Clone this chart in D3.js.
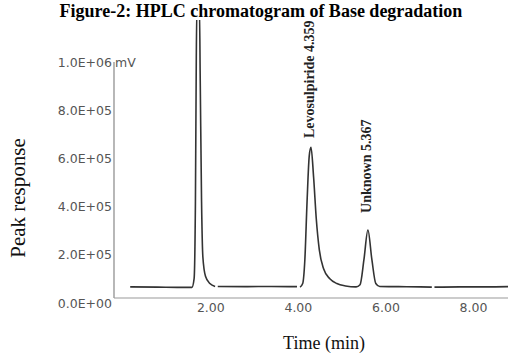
<!DOCTYPE html>
<html>
<head>
<meta charset="utf-8">
<script src="https://cdn.jsdelivr.net/npm/d3@7"></script>
<style>
  html, body { margin: 0; padding: 0; background: #fff; }
  svg { display: block; }
</style>
</head>
<body>
<svg id="chart" width="508" height="356"></svg>
<script>
// ---- data ----
const titleText = "Figure-2: HPLC chromatogram of Base degradation";
const xLabel = "Time (min)";
const yLabel = "Peak response";
const yUnit = "mV";

const xTicks = [2, 4, 6, 8];
const xTickLabels = ["2.00", "4.00", "6.00", "8.00"];
const yTicks = [0, 200000, 400000, 600000, 800000, 1000000];
const yTickLabels = ["0.0E+00", "2.0E+05", "4.0E+05", "6.0E+05", "8.0E+05", "1.0E+06"];

// chromatogram trace: retention time (min) and response; null = gap in trace
const traceTime = [
  0.17, 0.8, 1.3, 1.58, 1.63, 1.66, 1.68, 1.695, 1.75, 1.77, 1.80, 1.83, 1.89, 1.99, 2.11,
  2.14,
  2.17, 2.8, 3.4, 3.98,
  4.01,
  4.05, 4.11, 4.16, 4.21, 4.26, 4.30, 4.36, 4.42, 4.49, 4.59, 4.73, 4.89, 5.09, 5.33,
  5.42, 5.51, 5.60, 5.69, 5.78, 5.87, 6.3, 6.8, 7.06,
  7.09,
  7.12, 7.7, 8.3, 8.8
];
const traceResponse = [
  46000, 45000, 44000, 44000, 80000, 400000, 1000000, 1220000, 1220000, 900000, 400000, 170000, 90000, 60000, 48000,
  null,
  48000, 47000, 48000, 47000,
  null,
  45000, 60000, 160000, 400000, 590000, 625000, 500000, 330000, 200000, 120000, 80000, 60000, 50000, 46000,
  55000, 160000, 282000, 160000, 60000, 48000, 47000, 46000, 45000,
  null,
  45000, 46000, 46000, 47000
];

const peakNames = ["Levosulpiride 4.359", "Unknown 5.367"];
const peakTimes = [4.30, 5.60];
const peakLabelStart = [664000, 353000];

// ---- layout ----
const svg = d3.select("#chart");
const x = d3.scaleLinear().domain([-0.2, 8.8]).range([114, 508]);
const y = d3.scaleLinear().domain([0, 1000000]).range([298, 57]);

// title
svg.append("text")
  .attr("x", 261).attr("y", 17)
  .attr("text-anchor", "middle")
  .attr("font-family", "Liberation Serif, Times New Roman, serif")
  .attr("font-weight", "bold")
  .attr("font-size", 18)
  .attr("fill", "#000")
  .text(titleText);

// clip for trace
svg.append("clipPath").attr("id", "plotclip")
  .append("rect").attr("x", 114).attr("y", 20).attr("width", 394).attr("height", 300);

// axes lines
svg.append("line")
  .attr("x1", x(-0.2)).attr("x2", x(-0.2))
  .attr("y1", y(1000000) + 5).attr("y2", y(0))
  .attr("stroke", "#888").attr("stroke-width", 1.2);
svg.append("line")
  .attr("x1", x(-0.2)).attr("x2", 508)
  .attr("y1", y(0)).attr("y2", y(0))
  .attr("stroke", "#999").attr("stroke-width", 1.2);

// y tick labels via axis
const yAxis = d3.axisLeft(y).tickValues(yTicks)
  .tickFormat((d, i) => yTickLabels[i]).tickSize(0).tickPadding(2);
const gy = svg.append("g").attr("transform", `translate(${x(-0.2)},5)`).call(yAxis);
gy.select(".domain").remove();
gy.selectAll("text")
  .attr("font-family", "DejaVu Sans, sans-serif")
  .attr("font-size", 12.5)
  .attr("fill", "#555");

svg.append("text")
  .attr("x", x(-0.2) + 1).attr("y", y(1000000) + 5)
  .attr("dy", "0.36em")
  .attr("font-family", "DejaVu Sans, sans-serif")
  .attr("font-size", 12.5)
  .attr("fill", "#555")
  .text(yUnit);

// x tick labels via axis
const xAxis = d3.axisBottom(x).tickValues(xTicks)
  .tickFormat((d, i) => xTickLabels[i]).tickSize(0).tickPadding(5);
const gx = svg.append("g").attr("transform", `translate(0,${y(0)})`).call(xAxis);
gx.select(".domain").remove();
gx.selectAll("text")
  .attr("font-family", "DejaVu Sans, sans-serif")
  .attr("font-size", 12.5)
  .attr("fill", "#555");

// trace
const trace = traceTime.map((t, i) => ({ t, v: traceResponse[i] }));
const line = d3.line()
  .defined(d => d.v !== null)
  .x(d => x(d.t)).y(d => y(d.v))
  .curve(d3.curveMonotoneX);
svg.append("path")
  .datum(trace)
  .attr("clip-path", "url(#plotclip)")
  .attr("fill", "none")
  .attr("stroke", "#333")
  .attr("stroke-width", 1.6)
  .attr("stroke-linejoin", "round")
  .attr("d", line);

// peak labels
peakNames.forEach((name, i) => {
  const px = x(peakTimes[i]) + 3;
  const py = y(peakLabelStart[i]);
  svg.append("text")
    .attr("transform", `translate(${px},${py}) rotate(-90)`)
    .attr("font-family", "Liberation Serif, Times New Roman, serif")
    .attr("font-weight", "bold")
    .attr("font-size", 14)
    .attr("fill", "#222")
    .text(name);
});

// axis titles
svg.append("text")
  .attr("x", 324).attr("y", 349)
  .attr("text-anchor", "middle")
  .attr("font-family", "Liberation Serif, Times New Roman, serif")
  .attr("font-size", 18)
  .attr("fill", "#111")
  .text(xLabel);

svg.append("text")
  .attr("transform", "translate(25,198) rotate(-90)")
  .attr("text-anchor", "middle")
  .attr("font-family", "Liberation Serif, Times New Roman, serif")
  .attr("font-size", 21)
  .attr("fill", "#111")
  .text(yLabel);
</script>
</body>
</html>
